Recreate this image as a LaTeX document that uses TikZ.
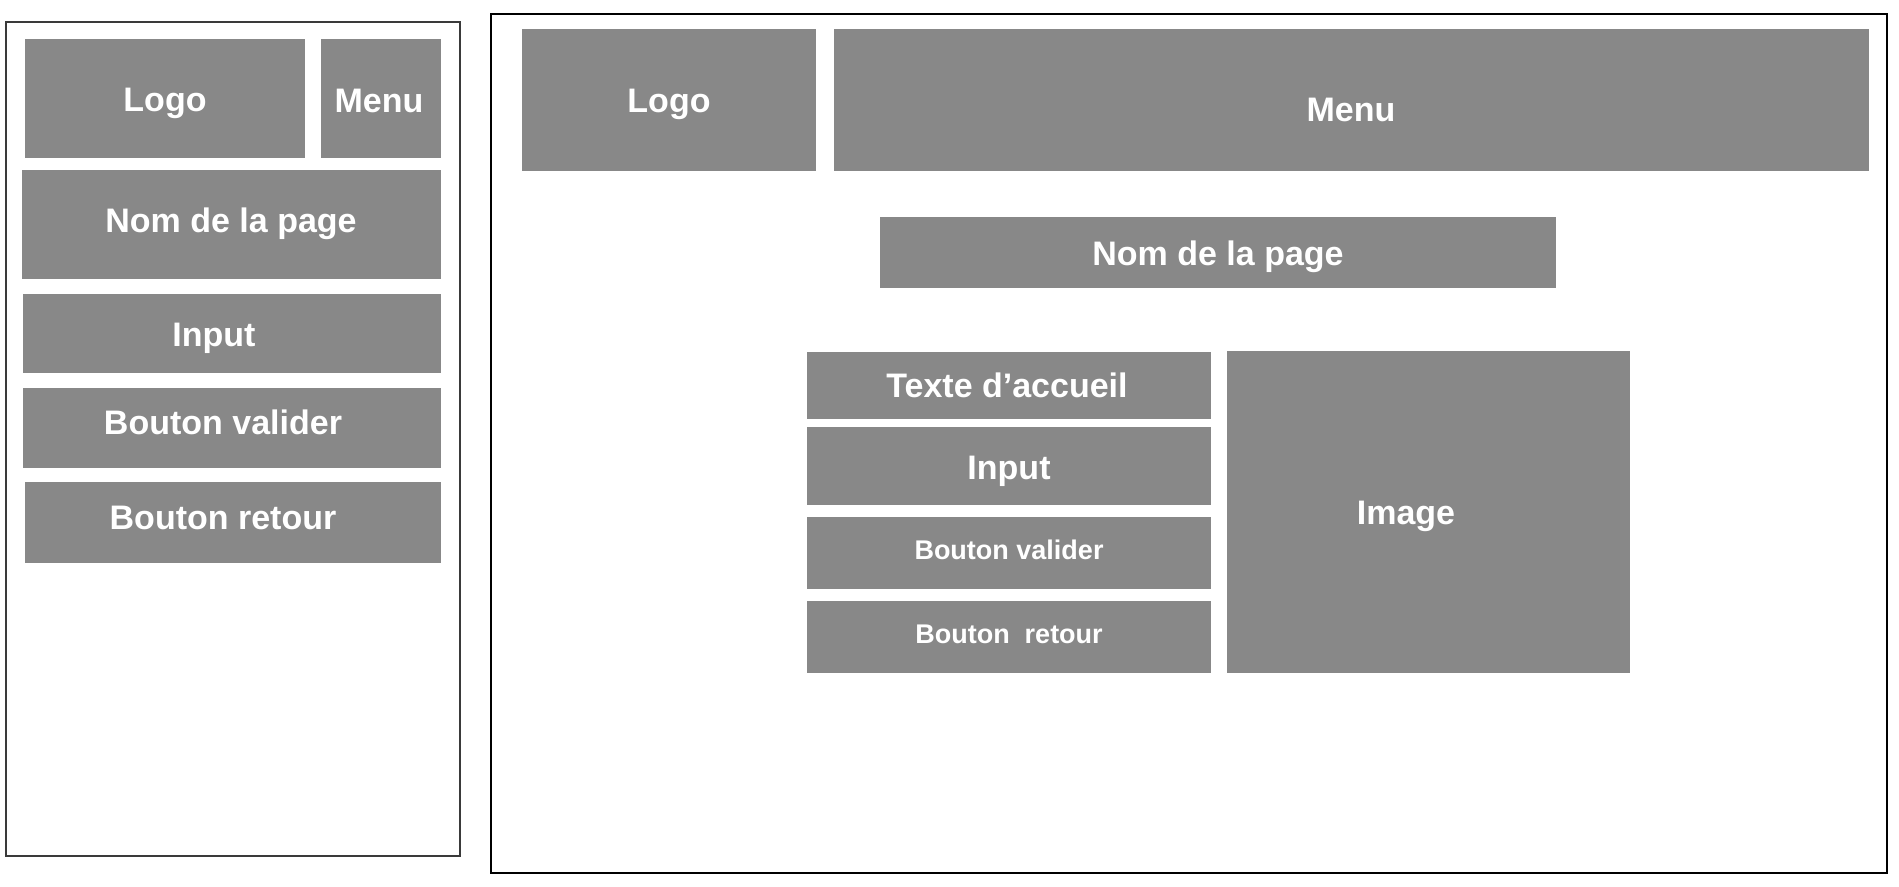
\documentclass[tikz,border=0pt]{standalone}
\usepackage{fontspec}
\setmainfont{Liberation Sans}
\definecolor{maquetteGris}{HTML}{888888}
\definecolor{maquetteCadre}{HTML}{3A3A3A}

\tikzset{
  bloc/.style={fill=maquetteGris},
  etiquette/.style={text=white,inner sep=0pt,text depth=0pt,text height=12.2pt,
    font=\bfseries\fontsize{17pt}{20pt}\selectfont},
  petite/.style={text height=9.7pt,font=\bfseries\fontsize{13.5pt}{16pt}\selectfont},
}

\begin{document}
\begin{tikzpicture}[x=0.5pt,y=-0.5pt]
  \useasboundingbox (0,0) rectangle (1899,887);

  % version mobile
  \draw[maquetteCadre,line width=1.2pt] (6,22) rectangle (460,856);
  \fill[bloc] (25,39) rectangle (305,158);
  \node[etiquette] (logoMobile) at (165,99) {Logo};
  \fill[bloc] (321,39) rectangle (441,158);
  \node[etiquette] (menuMobile) at (379,100) {Menu};
  \fill[bloc] (22,170) rectangle (441,279);
  \node[etiquette] (nomMobile) at (231,220) {Nom de la page};
  \fill[bloc] (23,294) rectangle (441,373);
  \node[etiquette] (inputMobile) at (214,334) {Input};
  \fill[bloc] (23,388) rectangle (441,468);
  \node[etiquette] (validerMobile) at (223,422) {Bouton valider};
  \fill[bloc] (25,482) rectangle (441,563);
  \node[etiquette] (retourMobile) at (223,517) {Bouton retour};

  % version ordinateur
  \draw[black,line width=1pt] (490.5,14.5) rectangle (1887,873);
  \fill[bloc] (522,29) rectangle (816,171);
  \node[etiquette] (logoBureau) at (669,100.5) {Logo};
  \fill[bloc] (834,29) rectangle (1869,171);
  \node[etiquette] (menuBureau) at (1351,109) {Menu};
  \fill[bloc] (880,217) rectangle (1556,288);
  \node[etiquette] (nomBureau) at (1218,253) {Nom de la page};
  \fill[bloc] (807,352) rectangle (1211,419);
  \node[etiquette] (accueilBureau) at (1007,385) {Texte d’accueil};
  \fill[bloc] (807,427) rectangle (1211,505);
  \node[etiquette] (inputBureau) at (1009,467) {Input};
  \fill[bloc] (807,517) rectangle (1211,589);
  \node[etiquette,petite] (validerBureau) at (1009,550) {Bouton valider};
  \fill[bloc] (807,601) rectangle (1211,673);
  \node[etiquette,petite] (retourBureau) at (1009,634) {Bouton\ \ retour};
  \fill[bloc] (1227,351) rectangle (1630,673);
  \node[etiquette] (imageBureau) at (1406,512) {Image};
\end{tikzpicture}
\end{document}
